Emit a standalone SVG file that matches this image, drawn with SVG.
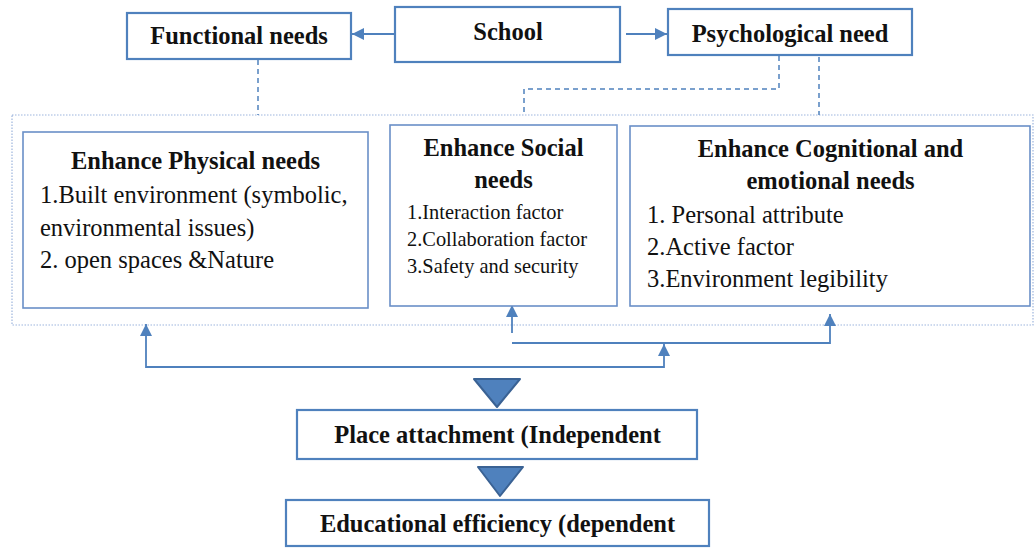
<svg xmlns="http://www.w3.org/2000/svg" width="1035" height="548" viewBox="0 0 1035 548">
  <style>
    .box { fill: #ffffff; stroke: #4F81BD; stroke-width: 2.2; }
    .inner { fill: #ffffff; stroke: #6A8FC7; stroke-width: 1.6; }
    .frame { fill: none; stroke: #9DB5DD; stroke-width: 1.2; stroke-dasharray: 1.5 1.5; }
    .dash { fill: none; stroke: #4F81BD; stroke-width: 1.5; stroke-dasharray: 5 4; }
    .link { fill: none; stroke: #4F81BD; stroke-width: 1.8; }
    .tri { fill: #4F81BD; stroke: #3A6294; stroke-width: 2; stroke-linejoin: round; }
    .hd { font-family: "Liberation Serif", "Times New Roman", serif; font-weight: bold; font-size: 24.5px; fill: #111111; text-anchor: middle; }
    .tx { font-family: "Liberation Serif", "Times New Roman", serif; font-size: 24.5px; fill: #111111; }
    .sm { font-family: "Liberation Serif", "Times New Roman", serif; font-size: 20.4px; fill: #111111; }
  </style>
  <defs>
    <marker id="ah" viewBox="0 0 12 12" refX="12" refY="6" markerWidth="12" markerHeight="12" orient="auto" markerUnits="userSpaceOnUse">
      <path d="M0,0 L12,6 L0,12 z" fill="#4F81BD"/>
    </marker>
  </defs>

  <rect width="1035" height="548" fill="#ffffff"/>

  <!-- dotted frame around the three "Enhance" boxes -->
  <rect class="frame" x="12" y="115" width="1021" height="210"/>

  <g id="connectors">
    <!-- School to the two need types -->
    <line class="link" x1="395" y1="34" x2="352" y2="34" marker-end="url(#ah)"/>
    <line class="link" x1="626" y1="34" x2="667" y2="34" marker-end="url(#ah)"/>
    <!-- dashed links down to the frame -->
    <line class="dash" x1="258" y1="60" x2="258" y2="115"/>
    <polyline class="dash" points="779,56 779,89 524,89 524,115"/>
    <line class="dash" x1="819" y1="57" x2="819" y2="115"/>
    <!-- feedback lines below the frame -->
    <polyline class="link" points="664,367 146,367 146,324" marker-end="url(#ah)"/>
    <line class="link" x1="664" y1="368" x2="664" y2="344" marker-end="url(#ah)"/>
    <polyline class="link" points="512,343 830,343 830,314" marker-end="url(#ah)"/>
    <line class="link" x1="512" y1="333" x2="512" y2="305" marker-end="url(#ah)"/>
    <!-- downward flow triangles -->
    <polygon class="tri" points="474,379 520,379 497,407"/>
    <polygon class="tri" points="478,467 523,467 500,496"/>
  </g>

  <g id="functional">
    <rect class="box" x="127" y="13" width="224" height="46"/>
    <text class="hd" x="239" y="44">Functional needs</text>
  </g>

  <g id="school">
    <rect class="box" x="395" y="7" width="225" height="55"/>
    <text class="hd" x="508" y="40">School</text>
  </g>

  <g id="psychological">
    <rect class="box" x="668" y="9" width="244" height="46"/>
    <text class="hd" x="790" y="42">Psychological need</text>
  </g>

  <g id="physical">
    <rect class="inner" x="23" y="132" width="345" height="176"/>
    <text class="hd" x="195.5" y="169">Enhance Physical needs</text>
    <text class="tx" x="40" y="203">1.Built environment (symbolic,</text>
    <text class="tx" x="40" y="236">environmental issues)</text>
    <text class="tx" x="40" y="268">2. open spaces &amp;Nature</text>
  </g>

  <g id="social">
    <rect class="inner" x="390" y="125" width="227" height="181"/>
    <text class="hd" x="503.5" y="156">Enhance Social</text>
    <text class="hd" x="503.5" y="188">needs</text>
    <text class="sm" x="407" y="219">1.Interaction factor</text>
    <text class="sm" x="407" y="246">2.Collaboration factor</text>
    <text class="sm" x="407" y="273">3.Safety and security</text>
  </g>

  <g id="cognitional">
    <rect class="inner" x="630" y="126" width="400" height="180"/>
    <text class="hd" x="830.5" y="157">Enhance Cognitional and</text>
    <text class="hd" x="830.5" y="189">emotional needs</text>
    <text class="tx" x="647" y="223">1. Personal attribute</text>
    <text class="tx" x="647" y="255">2.Active factor</text>
    <text class="tx" x="647" y="287">3.Environment legibility</text>
  </g>

  <g id="place-attachment">
    <rect class="box" x="297" y="410" width="400" height="49"/>
    <text class="hd" x="497.5" y="443">Place attachment (Independent</text>
  </g>

  <g id="educational-efficiency">
    <rect class="box" x="286" y="500" width="423" height="46"/>
    <text class="hd" x="497.5" y="532">Educational efficiency (dependent</text>
  </g>
</svg>
